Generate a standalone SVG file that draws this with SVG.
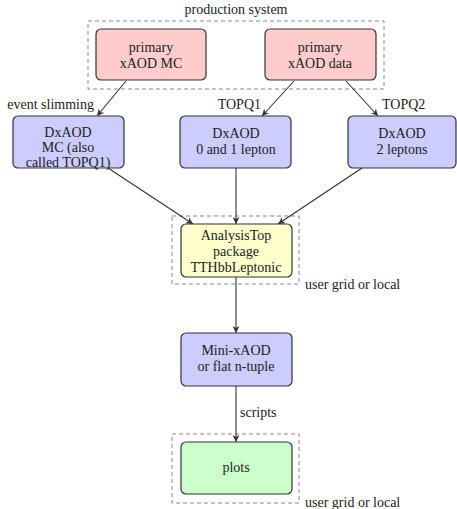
<svg xmlns="http://www.w3.org/2000/svg" width="457" height="509" viewBox="0 0 457 509">
<style>
text{font-family:'Liberation Serif','Times New Roman',serif;font-size:14px;fill:#222}
.c{text-anchor:middle}
.n{stroke:#333;stroke-width:1.2}
.d{fill:none;stroke:#888;stroke-width:1;stroke-dasharray:4 3}
.e{stroke:#333;stroke-width:1.1;fill:none;marker-end:url(#a)}
</style>
<defs>
<marker id="a" viewBox="0 0 10 10" refX="10" refY="5" markerWidth="7" markerHeight="7" markerUnits="userSpaceOnUse" orient="auto">
<path d="M0,0 L10,5 L0,10 L3,5 Z" fill="#333"/>
</marker>
</defs>
<g id="groups">
<rect class="d" x="88" y="21" width="296" height="68"/>
<text class="c" x="236" y="14">production system</text>
<rect class="d" x="172" y="216" width="127" height="68"/>
<text x="305" y="289">user grid or local</text>
<rect class="d" x="172" y="434" width="127" height="69"/>
<text x="305" y="507">user grid or local</text>
</g>
<g id="connectors">
<line class="e" x1="126" y1="81" x2="97" y2="116"/>
<line class="e" x1="294" y1="81" x2="262" y2="116"/>
<line class="e" x1="346" y1="81" x2="378" y2="116"/>
<line class="e" x1="108" y1="168" x2="193" y2="224"/>
<line class="e" x1="236" y1="168" x2="236" y2="224"/>
<line class="e" x1="362" y1="168" x2="278" y2="224"/>
<line class="e" x1="236" y1="277" x2="236" y2="333"/>
<line class="e" x1="236" y1="386" x2="236" y2="442"/>
<text x="94" y="109" text-anchor="end">event slimming</text>
<text x="261" y="109" text-anchor="end">TOPQ1</text>
<text x="382" y="109">TOPQ2</text>
<text x="240" y="417">scripts</text>
</g>
<g id="mc">
<rect class="n" x="96" y="29" width="110" height="51" rx="5" fill="#ffcccc"/>
<text class="c" x="151" y="52">primary</text>
<text class="c" x="151" y="68">xAOD MC</text>
</g>
<g id="data">
<rect class="n" x="265" y="29" width="111" height="51" rx="5" fill="#ffcccc"/>
<text class="c" x="320" y="52">primary</text>
<text class="c" x="320" y="68">xAOD data</text>
</g>
<g id="dxmc">
<rect class="n" x="13" y="116" width="111" height="52" rx="5" fill="#ccccff"/>
<text class="c" x="68" y="137">DxAOD</text>
<text class="c" x="68" y="152">MC (also</text>
<text class="c" x="68" y="167">called TOPQ1)</text>
</g>
<g id="dx01">
<rect class="n" x="180" y="116" width="111" height="52" rx="5" fill="#ccccff"/>
<text class="c" x="236" y="138">DxAOD</text>
<text class="c" x="236" y="154">0 and 1 lepton</text>
</g>
<g id="dx2">
<rect class="n" x="348" y="116" width="108" height="52" rx="5" fill="#ccccff"/>
<text class="c" x="402" y="138">DxAOD</text>
<text class="c" x="402" y="154">2 leptons</text>
</g>
<g id="at">
<rect class="n" x="181" y="224" width="111" height="53" rx="5" fill="#ffffcc"/>
<text class="c" x="236" y="240">AnalysisTop</text>
<text class="c" x="236" y="256">package</text>
<text class="c" x="236" y="272">TTHbbLeptonic</text>
</g>
<g id="mini">
<rect class="n" x="181" y="333" width="111" height="53" rx="5" fill="#ccccff"/>
<text class="c" x="236" y="355">Mini-xAOD</text>
<text class="c" x="236" y="371">or flat n-tuple</text>
</g>
<g id="plots">
<rect class="n" x="181" y="442" width="111" height="52" rx="5" fill="#ccffcc"/>
<text class="c" x="236" y="472">plots</text>
</g>
</svg>
